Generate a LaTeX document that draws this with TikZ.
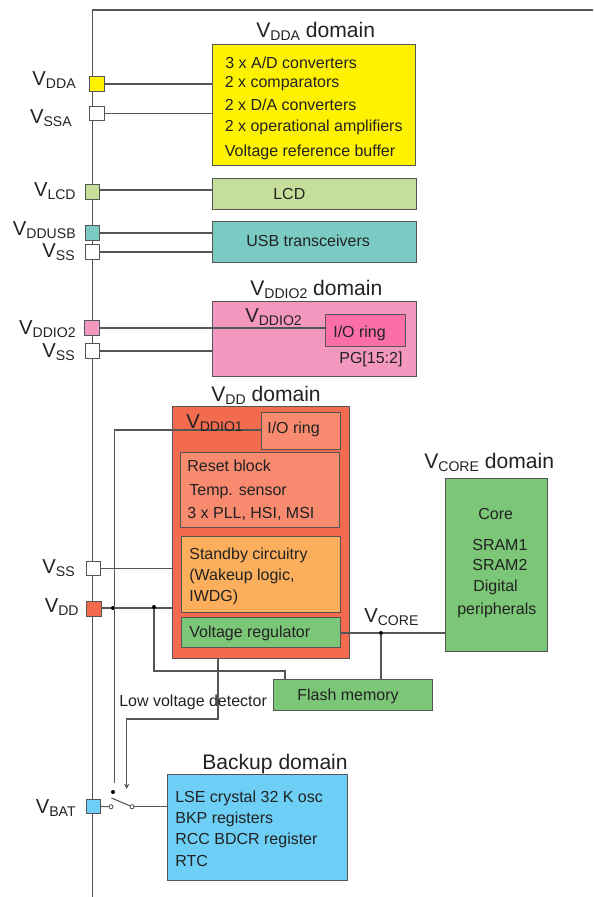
\documentclass[tikz,border=0pt]{standalone}
\usepackage{fontspec}
\setmainfont{Liberation Sans}
\usepackage{xcolor}
\usetikzlibrary{arrows.meta,positioning,calc}

\definecolor{wirecol}{HTML}{555555}
\definecolor{textcol}{HTML}{222222}
\definecolor{ddayellow}{HTML}{FFF200}
\definecolor{lcdgreen}{HTML}{C5DF9B}
\definecolor{usbteal}{HTML}{7ACBC4}
\definecolor{iopink}{HTML}{F598C0}
\definecolor{ringpink}{HTML}{FB6FA9}
\definecolor{vddred}{HTML}{F26B4E}
\definecolor{ringred}{HTML}{F88A70}
\definecolor{standbyorange}{HTML}{FBAE5C}
\definecolor{coregreen}{HTML}{7BC677}
\definecolor{backupblue}{HTML}{6DCFF6}

\newcommand{\Vname}[1]{V\raisebox{-0.32ex}{\fontsize{8}{9}\selectfont #1}}

\begin{document}
\begin{tikzpicture}[
  >=Stealth,
  x=0.02cm, y=-0.02cm,
  block/.style={draw=wirecol, line width=0.55pt, inner sep=0pt, outer sep=0pt},
  pad/.style={draw=wirecol, line width=0.7pt, fill=white, inner sep=0pt, outer sep=0pt, minimum size=0.29cm},
  wire/.style={draw=wirecol, line width=0.6pt},
  txt/.style={anchor=base west, inner sep=0pt, text=textcol, font=\fontsize{9.1}{11}\selectfont},
  title/.style={anchor=base west, inner sep=0pt, text=textcol, font=\fontsize{12}{14}\selectfont},
  supply/.style={anchor=base east, inner sep=0pt, text=textcol, font=\fontsize{11.5}{14}\selectfont},
  joint/.style={circle, fill=black, inner sep=0pt, minimum size=0.08cm},
  contact/.style={circle, draw=wirecol, fill=white, line width=0.5pt, inner sep=0pt, minimum size=0.08cm},
]
\useasboundingbox (0,0) rectangle (593,897);

% Supply rail
\coordinate (railtop) at (92.5,10);
\coordinate (railend) at (593,10);
\coordinate (railbot) at (92.5,897);
\draw[wire] (railend) -- (railtop) -- (railbot);

% Domain blocks
\node[block, fill=ddayellow, minimum width=4.08cm, minimum height=2.42cm] (ddabox) at (314,104.5) {};
\node[block, fill=lcdgreen, minimum width=4.10cm, minimum height=0.62cm] (lcdbox) at (314.5,193.5) {};
\node[block, fill=usbteal, minimum width=4.10cm, minimum height=0.82cm] (usbbox) at (314.5,241.5) {};
\node[block, fill=iopink, minimum width=4.10cm, minimum height=1.50cm] (ioboxtwo) at (314.5,338.5) {};
\node[block, fill=ringpink, minimum width=1.60cm, minimum height=0.64cm] (ringtwo) at (365,330) {};
\node[block, fill=vddred, minimum width=3.54cm, minimum height=5.04cm] (vddbox) at (260.5,532) {};
\node[block, fill=ringred, minimum width=1.58cm, minimum height=0.74cm] (ringone) at (300.5,430.5) {};
\node[block, fill=ringred, minimum width=3.18cm, minimum height=1.51cm] (resetbox) at (259.5,490.2) {};
\node[block, fill=standbyorange, minimum width=3.18cm, minimum height=1.52cm] (standbybox) at (260.5,574) {};
\node[block, fill=coregreen, minimum width=3.18cm, minimum height=0.60cm] (regbox) at (260.5,632) {};
\node[block, fill=coregreen, minimum width=2.04cm, minimum height=3.46cm] (corebox) at (496,564.5) {};
\node[block, fill=coregreen, minimum width=3.18cm, minimum height=0.62cm] (flashbox) at (352.5,694.5) {};
\node[block, fill=backupblue, minimum width=3.60cm, minimum height=2.12cm] (backupbox) at (257,827) {};

% Pads
\node[pad, fill=ddayellow] (paddda) at (97,84) {};
\node[pad] (padssa) at (97,113.5) {};
\node[pad, fill=lcdgreen] (padlcd) at (92.5,192) {};
\node[pad, fill=usbteal] (padusb) at (92.5,233) {};
\node[pad] (padssone) at (92.5,252) {};
\node[pad, fill=iopink] (padiotwo) at (92,328) {};
\node[pad] (padsstwo) at (92.5,351) {};
\node[pad] (padssthree) at (93.5,568.5) {};
\node[pad, fill=vddred] (padvdd) at (94,609) {};
\node[pad, fill=backupblue] (padbat) at (93.5,806.5) {};

% Pad wires
\draw[wire, line width=0.8pt] (paddda.east) -- (paddda.east -| ddabox.west);
\draw[wire] (padssa.east) -- (padssa.east -| ddabox.west);
\draw[wire] ($(padlcd.east)+(0,-2)$) -- ($(padlcd.east -| lcdbox.west)+(0,-2)$);
\draw[wire] (padusb.east) -- (padusb.east -| usbbox.west);
\draw[wire] (padssone.east) -- (padssone.east -| usbbox.west);
\draw[wire] (padiotwo.east) -- (padiotwo.east -| ringtwo.west);
\draw[wire] (padsstwo.east) -- (padsstwo.east -| ioboxtwo.west);
\draw[wire] (padssthree.east) -- (padssthree.east -| vddbox.west);
\draw[wire] ($(padvdd.east)+(0,-1)$) -- ($(padvdd.east -| vddbox.west)+(0,-1)$);

% Inner supply lines
\node[joint] (jointvdd) at (113,608) {};
\node[joint] (jointflash) at (154,607) {};
\node[joint] (jointcore) at (381,633) {};
\coordinate (ringcorner) at (114.5,430);
\coordinate (switchtop) at (114.5,783);
\draw[wire] (switchtop) -- (ringcorner) -- (ringcorner -| ringone.west);
\draw[wire] (jointflash) |- (285,671) -- (285,671 |- flashbox.north);
\draw[wire] (regbox.east |- jointcore) -- (jointcore) -- (jointcore -| corebox.west);
\draw[wire] (jointcore) -- (jointcore |- flashbox.north);

% Low voltage detector feed
\coordinate (lvdtop) at (218,658);
\coordinate (lvdbend) at (218,719);
\coordinate (lvdend) at (126.7,789);
\draw[wire, ->, >={Stealth[length=3pt,width=3pt]}] (lvdtop) -- (lvdbend) -| (lvdend);

% Switch
\node[joint] (switchdot) at (113,792) {};
\node[contact] (contactleft) at (111,806.7) {};
\node[contact] (contactright) at (132,806.7) {};
\coordinate (bladestart) at (111.5,798);
\draw[wire] (padbat.east) -- (contactleft);
\draw[wire] (bladestart) -- (contactright);
\draw[wire, line width=0.8pt] (contactright) -- (contactright -| backupbox.west);

% Yellow block text
\foreach \i/\x/\y/\lab in {1/225/68/{3 x A/D converters}, 2/224.5/87/2 x comparators, 3/224.5/110/{2 x D/A converters}, 4/224.5/131/2 x operational amplifiers, 5/224.5/156/Voltage reference buffer} {
  \node[txt] (ddatext\i) at (\x,\y) {\lab};
}
% Core domain text
\foreach \i/\x/\y/\lab in {1/478/519/Core, 2/472/550/SRAM1, 3/472/570/SRAM2, 4/473/591/Digital, 5/457/614/peripherals} {
  \node[txt] (coretext\i) at (\x,\y) {\lab};
}
% Reset and standby text
\foreach \i/\x/\y/\lab in {1/187/471/Reset block, 2/189/495/Temp. sensor, 3/187/518/{3 x PLL, HSI, MSI}, 4/189/559/Standby circuitry, 5/189/580/{(Wakeup logic,}, 6/189/601/IWDG), 7/189/637/Voltage regulator} {
  \node[txt] (vddtext\i) at (\x,\y) {\lab};
}
% Backup domain text
\foreach \i/\y/\lab in {1/802/LSE crystal 32 K osc, 2/823/BKP registers, 3/844/RCC BDCR register, 4/866/RTC} {
  \node[txt] (backuptext\i) at (175,\y) {\lab};
}
\node[txt] (lcdtext) at (273,199) {LCD};
\node[txt] (usbtext) at (246,246) {USB transceivers};
\node[txt] (ringtwotext) at (333,337) {I/O ring};
\node[txt] (pgtext) at (339,363) {PG[15:2]};
\node[txt] (ringonetext) at (267,433) {I/O ring};
\node[txt] (flashtext) at (297,700) {Flash memory};
\node[txt] (lvdtext) at (119,706) {Low voltage detector};

% Domain titles
\node[title] (ddatitle) at (256,37) {\Vname{DDA} domain};
\node[title] (iotwotitle) at (250,295) {\Vname{DDIO2} domain};
\node[title] (vddtitle) at (211,401) {\Vname{DD} domain};
\node[title] (coretitle) at (424,468) {\Vname{CORE} domain};
\node[title] (backuptitle) at (202,769) {Backup domain};

% Supply names
\foreach \i/\x/\y/\lab in {1/76/85/DDA, 2/72/123/SSA, 3/76/196/LCD, 4/76/235/DDUSB, 5/75/257/SS, 6/76/334/DDIO2, 7/75/357/SS, 8/75/573/SS, 9/79/612/DD, 10/76/813/BAT} {
  \node[supply] (supply\i) at (\x,\y) {\Vname{\lab}};
}
\node[supply, anchor=base west] (iotwoname) at (245,322) {\Vname{DDIO2}};
\node[supply, anchor=base west] (iotonename) at (186,428) {\Vname{DDIO1}};
\node[supply, anchor=base west] (corename) at (364,622) {\Vname{CORE}};
\end{tikzpicture}
\end{document}
